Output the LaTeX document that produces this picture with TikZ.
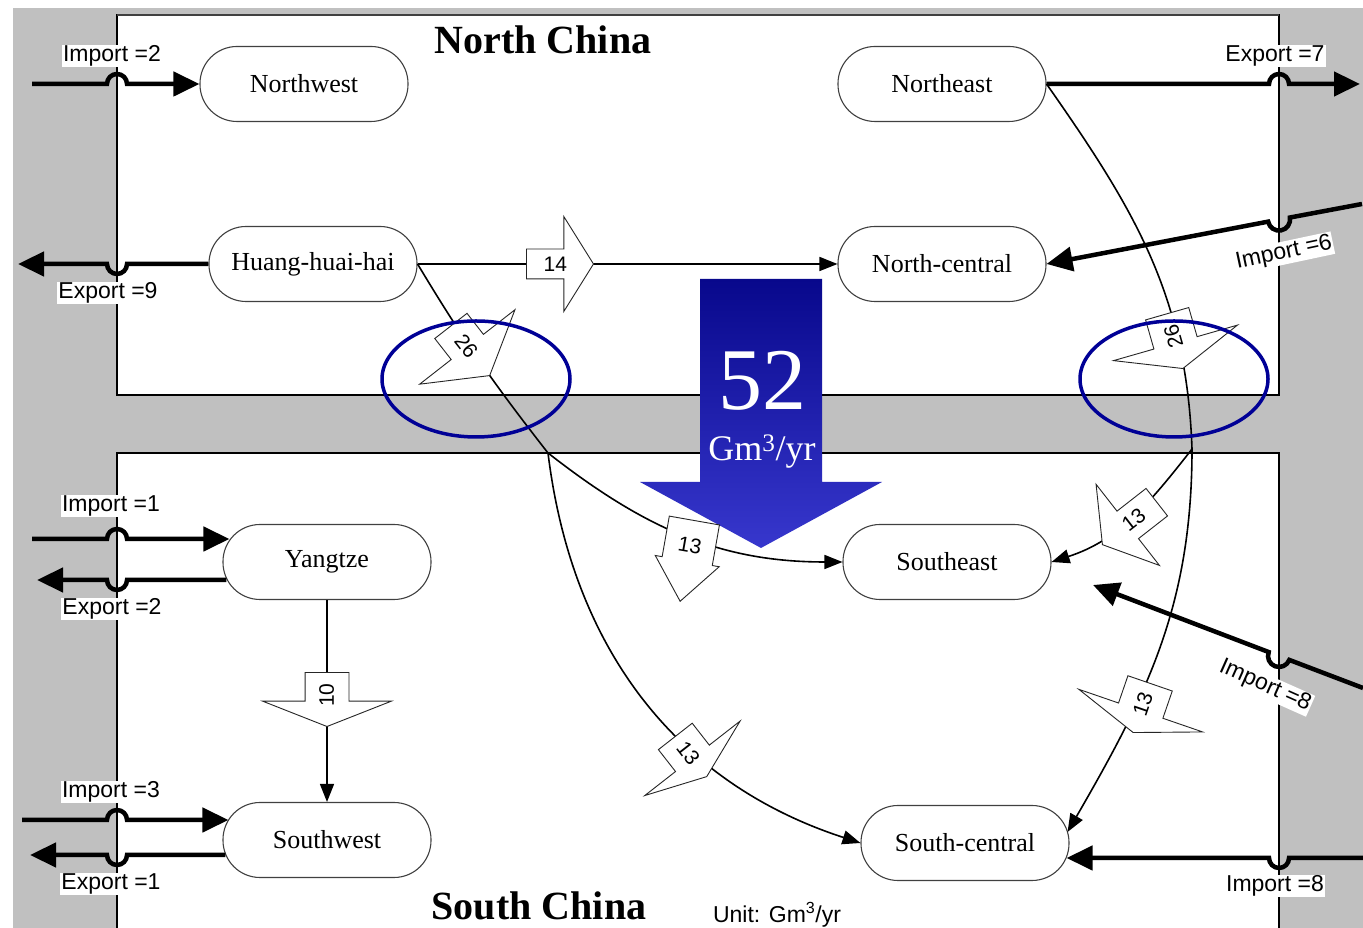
\documentclass[tikz,border=0pt]{standalone}
\usepackage{fontspec}
\setmainfont{Liberation Serif}
\setsansfont{Liberation Sans}
\usetikzlibrary{arrows.meta, positioning, shapes.arrows, calc}

\definecolor{bandgray}{RGB}{192,192,192}
\definecolor{ringblue}{RGB}{0,0,150}
\definecolor{bigtop}{RGB}{8,8,140}
\definecolor{bigbot}{RGB}{55,55,205}

\begin{document}
\begin{tikzpicture}[x=1pt, y=1pt,
    region/.style={rectangle, rounded corners=37pt, draw=black!75, line width=1.1pt, fill=white,
        minimum width=208pt, minimum height=75pt, inner sep=0pt, font=\fontsize{26}{28}\selectfont},
    flow/.style={line width=1.6pt, -{Triangle[length=18pt,width=14pt]}},
    trade/.style={line width=4.5pt, -{Triangle[length=26pt,width=24pt]}},
    tradelabel/.style={fill=white, inner sep=1pt, font=\sffamily\fontsize{23}{23}\selectfont},
    flowtag/.style={single arrow, draw=black!85, line width=0.9pt, fill=white, anchor=tip,
        inner xsep=1pt, text height=15pt, text depth=0pt, font=\sffamily\fontsize{21}{21}\selectfont},
    ring/.style={draw=ringblue, line width=3.5pt},
    heading/.style={font=\bfseries\fontsize{40}{40}\selectfont}
    ]

    % Canvas and the two halves
    \useasboundingbox[fill=white] (0,0) rectangle (1363,928);
    \fill[bandgray] (13,0) rectangle (1363,920);
    \draw[fill=white, line width=1.2pt] (117,533) rectangle (1279,913);
    \draw[line width=2.6pt, black!75] (117,913) -- (1279,913);
    \draw[fill=white, line width=1.2pt] (117,-5) rectangle (1279,475);

    % Titles
    \node[heading] (north) at (543,888) {North China};
    \node[heading] (south) at (539,22) {South China};
    \node[font=\sffamily\fontsize{23}{23}\selectfont] (unit) at (777,13) {Unit: Gm\textsuperscript{3}/yr};

    % Regions
    \node[region] (nw) at (304,844) {Northwest};
    \node[region] (ne) at (942,844) {Northeast};
    \node[region] (hhh) at (313,664) {Huang-huai-hai};
    \node[region] (nc) at (942,664) {North-central};
    \node[region] (yz) at (327,366) {Yangtze};
    \node[region] (se) at (947,366) {Southeast};
    \node[region] (sw) at (327,88) {Southwest};
    \node[region] (sc) at (965,85) {South-central};

    % Total north-to-south transfer
    \shade[top color=bigtop, bottom color=bigbot] (700,649) -- (822,649) -- (822,446) -- (882,446)
        -- (761,380) -- (640,446) -- (700,446) -- cycle;
    \node[text=white, font=\fontsize{88}{88}\selectfont] (big) at (762,547) {52};
    \node[text=white, font=\fontsize{36}{36}\selectfont] (bigunit) at (762,476) {Gm\textsuperscript{3}/yr};

    % Imports and exports
    \coordinate (imp2) at (32,844);
    \draw[trade] (imp2) -- (107,844) arc[start angle=180, end angle=0, radius=10] -- (nw.west);
    \coordinate (exp9) at (18,664);
    \draw[trade] (hhh.west) -- (127,664) arc[start angle=0, end angle=-180, radius=10] -- (exp9);
    \coordinate (exp7) at (1360,844);
    \draw[trade] (ne.east) -- (1269,844) arc[start angle=180, end angle=0, radius=10] -- (exp7);
    \coordinate (imp6) at (1362,724);
    \draw[trade] (imp6) -- ($(1279,708.4)+(10.7:11)$) arc[start angle=10.7, end angle=-169.3, radius=11] -- (nc.east);
    \coordinate (imp1) at (32,389);
    \draw[trade] (imp1) -- (107,389) arc[start angle=180, end angle=0, radius=10] -- ([shift={(7,23)}]yz.west);
    \coordinate (exp2) at (37,348);
    \draw[trade] ([shift={(4,-18)}]yz.west) -- (127,348) arc[start angle=0, end angle=-180, radius=10] -- (exp2);
    \coordinate (imp3) at (22,108);
    \draw[trade] (imp3) -- (107,108) arc[start angle=180, end angle=0, radius=10] -- ([shift={(6,20)}]sw.west);
    \coordinate (exp1) at (30,73);
    \draw[trade] ([shift={(3,-15)}]sw.west) -- (127,73) arc[start angle=0, end angle=-180, radius=10] -- (exp1);
    \coordinate (imp8a) at (1363,240);
    \coordinate (imp8end) at (1093,343);
    \draw[trade] (imp8a) -- ($(1279,272)+(-20.9:11)$) arc[start angle=-20.9, end angle=-200.9, radius=11] -- (imp8end);
    \coordinate (imp8b) at (1363,70);
    \draw[trade] (imp8b) -- (1289,70) arc[start angle=0, end angle=-180, radius=10] -- ([shift={(-3,-15)}]sc.east);

    % Inter-regional flows
    \coordinate (jl) at (548,475);
    \coordinate (jr) at (1192,479);
    \draw[flow] (hhh.east) -- (nc.west);
    \draw[line width=1.6pt] (hhh.east) to[out=-59, in=128] (jl);
    \draw[flow] (jl) to[out=-38, in=180] (se.west);
    \draw[flow] (jl) to[out=-83, in=162] (sc.west);
    \draw[line width=1.6pt] (ne.east) to[out=-55, in=92] (jr);
    \draw[flow] (jr) to[out=-128, in=18] (se.east);
    \draw[flow] (jr) to[out=-90, in=60] ([shift={(-2,11)}]sc.east);
    \draw[flow] (yz) -- (sw);

    % Flow amounts
    \node[flowtag, inner ysep=7pt, single arrow head extend=32.5pt, minimum width=94pt,
        minimum height=67pt, single arrow tip angle=116] (t14) at (594,664) {14};
    \node[flowtag, rotate=-52, inner ysep=12.5pt, single arrow head extend=40pt, minimum width=120pt,
        minimum height=63pt, single arrow tip angle=118] (t26a) at (490,552) {26};
    \node[flowtag, rotate=-74, inner ysep=14.5pt, single arrow head extend=42pt, minimum width=128pt,
        minimum height=57pt, single arrow tip angle=135] (t26b) at (1183,559) {\rotatebox[origin=c]{180}{26}};
    \node[flowtag, rotate=-142, inner ysep=9.5pt, single arrow head extend=34pt, minimum width=102pt,
        minimum height=69pt, single arrow tip angle=116] (t13c) at (1102,383) {\rotatebox[origin=c]{180}{13}};
    \node[flowtag, rotate=-109, inner ysep=15.5pt, single arrow head extend=42pt, minimum width=130pt,
        minimum height=52pt, single arrow tip angle=141] (t13d) at (1133,195) {\rotatebox[origin=c]{180}{13}};
    \node[flowtag, rotate=-52, inner ysep=13.5pt, single arrow head extend=39pt, minimum width=120pt,
        minimum height=51pt, single arrow tip angle=138] (t13e) at (707,151) {13};
    \node[flowtag, rotate=-100, inner ysep=17.5pt, single arrow head extend=7pt, minimum width=64pt,
        minimum height=82pt, single arrow tip angle=77] (t13f) at (680,326) {\rotatebox[origin=c]{90}{13}};
    \node[flowtag, rotate=-90, inner ysep=14pt, single arrow head extend=42.5pt, minimum width=128pt,
        minimum height=54pt, single arrow tip angle=137] (t10) at (327,201) {\rotatebox[origin=c]{180}{10}};

    % Boundary crossings
    \draw[ring] (476,549) ellipse[x radius=94, y radius=58];
    \draw[ring] (1174,549) ellipse[x radius=94, y radius=58];

    % Trade labels
    \node[tradelabel] (limp2) at (112,872) {Import =2};
    \node[tradelabel] (lexp9) at (108,635) {Export =9};
    \node[tradelabel] (lexp7) at (1275,872) {Export =7};
    \node[tradelabel, rotate=12] (limp6) at (1284,675) {Import =6};
    \node[tradelabel] (limp1) at (111,422) {Import =1};
    \node[tradelabel] (lexp2) at (112,319) {Export =2};
    \node[tradelabel] (limp3) at (111,136) {Import =3};
    \node[tradelabel] (lexp1) at (111,44) {Export =1};
    \node[tradelabel, rotate=-24] (limp8a) at (1265,242) {Import =8};
    \node[tradelabel] (limp8b) at (1275,42) {Import =8};

\end{tikzpicture}
\end{document}
